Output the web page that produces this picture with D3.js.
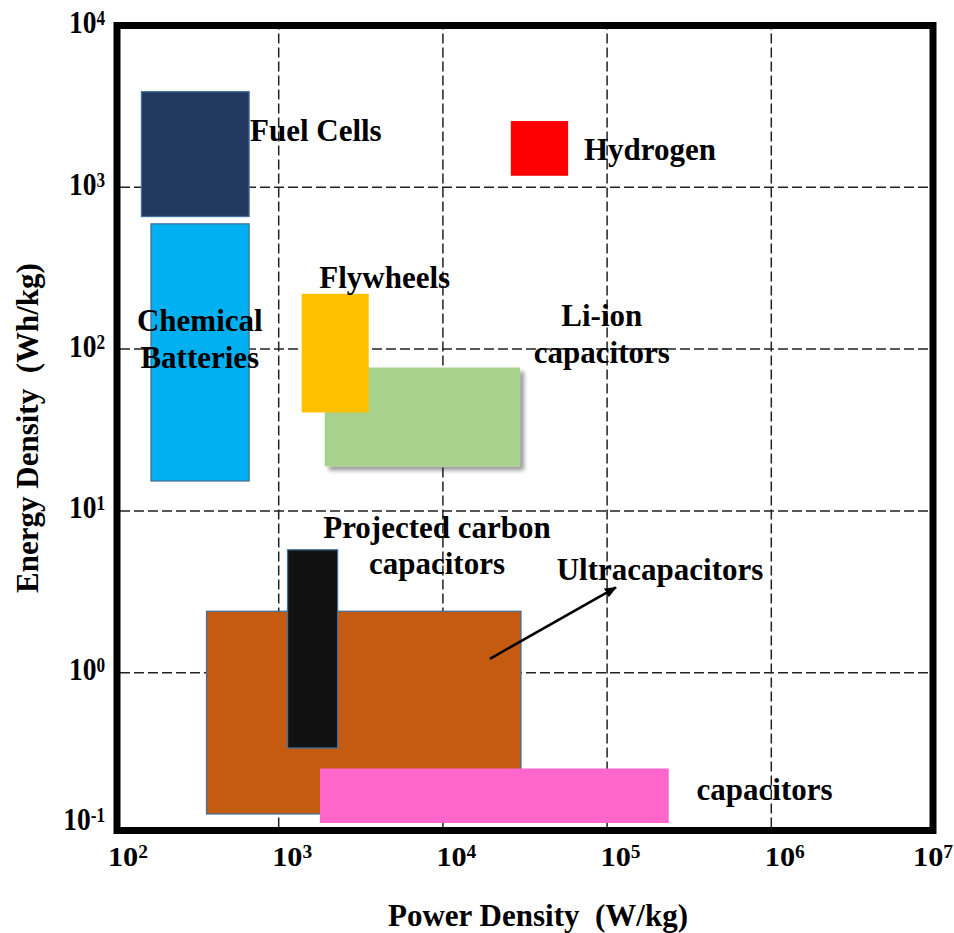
<!DOCTYPE html>
<html>
<head>
<meta charset="utf-8">
<script src="https://cdn.jsdelivr.net/npm/d3@7"></script>
<style>
  body { margin: 0; background: #fff; }
  svg { display: block; }
  text { font-family: "Liberation Serif", "Times New Roman", serif; font-weight: bold; fill: #000; }
</style>
</head>
<body>
<svg id="chart" width="954" height="933"></svg>
<script>
// Ragone plot: energy density vs power density of storage technologies
const technologies = ["Chemical Batteries", "Fuel Cells", "Hydrogen", "Li-ion capacitors",
                      "Flywheels", "Ultracapacitors", "Projected carbon capacitors", "Capacitors"];
const powerMin  = [168, 147, 26100, 1920, 1390, 366, 1140, 1795];      // W/kg
const powerMax  = [665, 665, 58300, 29700, 3560, 30100, 2300, 239000];  // W/kg
const energyMin = [15.2, 655, 1170, 18.7, 40.3, 0.133, 0.34, 0.117];    // Wh/kg
const energyMax = [590, 3870, 2550, 76.4, 218, 2.38, 5.71, 0.254];      // Wh/kg

const fillColors = ["#00B0F0", "#22385F", "#FF0000", "#A9D18E", "#FFC000", "#C55A11", "#111111", "#FF66CC"];
const outlined   = [true, true, false, false, false, true, true, false];
const shadowed   = [false, false, false, true, false, false, false, false];

// label text lines and their anchor points in data units
const labelLines  = [["Chemical", "Batteries"], ["Fuel Cells"], ["Hydrogen"], ["Li-ion", "capacitors"],
                     ["Flywheels"], ["Ultracapacitors"], ["Projected carbon", "capacitors"], ["capacitors"]];
const labelPower  = [333, 673, 72800, 93500, 1778, 49700, 9270, 353000];
const labelEnergy = [127.7, 1921, 1466, 137, 236.6, 3.73, 6.78, 0.163];
const labelAnchor = ["middle", "start", "start", "middle", "start", "start", "middle", "start"];

// arrow pointing from the ultracapacitor region to its label
const arrowPower  = [19450, 114000];
const arrowEnergy = [1.21, 3.34];

const xExponents = [2, 3, 4, 5, 6, 7];
const yExponents = [-1, 0, 1, 2, 3, 4];
const xTitle = "Power Density  (W/kg)";
const yTitle = "Energy Density  (Wh/kg)";

const W = 954;
const svg = d3.select("#chart");
const frame = { left: 117, top: 25.5, right: 933, bottom: 830.5 };

const x = d3.scaleLog().domain([1e2, 1e7]).range([114, 935]);
const y = d3.scaleLog().domain([1e-1, 1e4]).range([834, 25]);

const defs = svg.append("defs");
defs.append("filter").attr("id", "shadow").attr("x", "-10%").attr("y", "-10%")
  .attr("width", "130%").attr("height", "130%")
  .append("feDropShadow").attr("dx", 4).attr("dy", 4).attr("stdDeviation", 2)
  .attr("flood-color", "#000").attr("flood-opacity", 0.4);
defs.append("marker").attr("id", "arrowhead")
  .attr("viewBox", "0 0 12 10").attr("refX", 11).attr("refY", 5)
  .attr("markerWidth", 12).attr("markerHeight", 10)
  .attr("markerUnits", "userSpaceOnUse").attr("orient", "auto")
  .append("path").attr("d", "M0,0 L12,5 L0,10 Z").attr("fill", "#000");

// dashed grid drawn with axes
svg.append("g").attr("class", "grid")
  .attr("transform", `translate(0,${frame.bottom - 3})`)
  .call(d3.axisBottom(x).tickValues([1e3, 1e4, 1e5, 1e6]).tickFormat("")
        .tickSize(-(frame.bottom - frame.top - 6)).tickSizeOuter(0));
svg.append("g").attr("class", "grid")
  .attr("transform", `translate(${frame.left + 3},0)`)
  .call(d3.axisLeft(y).tickValues([1e0, 1e1, 1e2, 1e3]).tickFormat("")
        .tickSize(-(frame.right - frame.left - 6)).tickSizeOuter(0));
svg.selectAll(".grid .domain").remove();
svg.selectAll(".grid line")
  .attr("stroke", "#222").attr("stroke-width", 1.5).attr("stroke-dasharray", "10,4");

// technology regions
const idx = d3.range(technologies.length);
svg.append("g").selectAll("rect").data(idx).join("rect")
  .attr("x", i => x(powerMin[i]))
  .attr("y", i => y(energyMax[i]))
  .attr("width", i => x(powerMax[i]) - x(powerMin[i]))
  .attr("height", i => y(energyMin[i]) - y(energyMax[i]))
  .attr("fill", i => fillColors[i])
  .attr("stroke", i => outlined[i] ? "#41719C" : "none")
  .attr("stroke-width", 1.3)
  .attr("filter", i => shadowed[i] ? "url(#shadow)" : null);

// arrow
svg.append("line")
  .attr("x1", x(arrowPower[0])).attr("y1", y(arrowEnergy[0]))
  .attr("x2", x(arrowPower[1])).attr("y2", y(arrowEnergy[1]))
  .attr("stroke", "#000").attr("stroke-width", 2.5)
  .attr("marker-end", "url(#arrowhead)");

// region labels
const labels = svg.append("g").selectAll("text").data(idx).join("text")
  .attr("x", i => x(labelPower[i]))
  .attr("y", i => y(labelEnergy[i]))
  .attr("text-anchor", i => labelAnchor[i])
  .attr("font-size", 31);
labels.each(function (i) {
  const t = d3.select(this);
  labelLines[i].forEach((line, k) => {
    t.append("tspan").attr("x", x(labelPower[i])).attr("dy", k === 0 ? 0 : 36.6).text(line);
  });
});

// frame
svg.append("rect")
  .attr("x", frame.left).attr("y", frame.top)
  .attr("width", frame.right - frame.left).attr("height", frame.bottom - frame.top)
  .attr("fill", "none").attr("stroke", "#000").attr("stroke-width", 7);

// power-of-ten tick labels
function powerLabel(sel, e, supSize, supShift) {
  sel.append("tspan").text("10");
  sel.append("tspan").attr("font-size", supSize).attr("dy", supShift)
    .text(e < 0 ? "-" + (-e) : String(e));
}
const xsx = 1.08;
svg.append("g").selectAll("text").data(xExponents).join("text")
  .attr("font-size", 28)
  .each(function (e) {
    const t = d3.select(this);
    powerLabel(t, e, 18, -8);
    const w = this.getComputedTextLength() * xsx;
    let x0 = x(Math.pow(10, e)) - 6;
    if (x0 + w > W - 1) x0 = W - 1 - w;
    t.attr("transform", `translate(${x0},866) scale(${xsx},1)`);
  });

svg.append("g").selectAll("text").data(yExponents).join("text")
  .attr("transform", e => `translate(105,${Math.min(y(Math.pow(10, e)) + 8, 830)}) scale(0.86,1)`)
  .attr("text-anchor", "end")
  .attr("font-size", 32)
  .each(function (e) { powerLabel(d3.select(this), e, 20, -8); });

// axis titles
svg.append("text")
  .attr("x", 538).attr("y", 926)
  .attr("text-anchor", "middle").attr("font-size", 31)
  .style("white-space", "pre").text(xTitle);
svg.append("text")
  .attr("transform", "translate(38,428) rotate(-90)")
  .attr("text-anchor", "middle").attr("font-size", 31)
  .style("white-space", "pre").text(yTitle);
</script>
</body>
</html>
